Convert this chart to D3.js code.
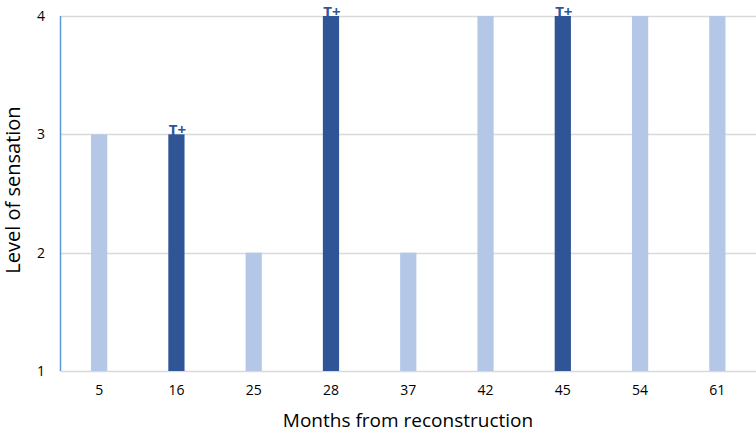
<!DOCTYPE html>
<html>
<head>
<meta charset="utf-8">
<script src="https://cdn.jsdelivr.net/npm/d3@7"></script>
<style>
  body { margin: 0; background: #fff; }
  text { font-family: "Open Sans", "Noto Sans", sans-serif; }
</style>
</head>
<body>
<svg id="chart" width="756" height="435"></svg>
<script>
// data
const months = ["5", "16", "25", "28", "37", "42", "45", "54", "61"];
const levels = [3, 3, 2, 4, 2, 4, 4, 4, 4];
const tPlus = [false, true, false, true, false, false, true, false, false];
const yTicks = [1, 2, 3, 4];

const svg = d3.select("#chart");
const margin = {top: 16, right: 0, bottom: 64, left: 60.5};
const W = 756, H = 435;

const x = d3.scaleBand().domain(months).range([margin.left, W - margin.right]).paddingInner(0.79).paddingOuter(0.395);
const y = d3.scaleLinear().domain([1, 4]).range([H - margin.bottom, margin.top]);

// grid lines
svg.append("g").selectAll("line").data(yTicks).join("line")
  .attr("x1", margin.left).attr("x2", W - margin.right)
  .attr("y1", d => Math.round(y(d)) + 0.5).attr("y2", d => Math.round(y(d)) + 0.5)
  .attr("stroke", "#d9d9d9").attr("stroke-width", 1.5);

// bars
const rows = months.map((m, i) => ({m: m, v: levels[i], t: tPlus[i]}));
svg.append("g").selectAll("rect").data(rows).join("rect")
  .attr("x", d => x(d.m))
  .attr("width", x.bandwidth())
  .attr("y", d => y(d.v))
  .attr("height", d => y(1) - y(d.v))
  .attr("fill", d => d.t ? "#2F5597" : "#B4C7E7");

// T+ labels
svg.append("g").selectAll("text").data(rows.filter(d => d.t)).join("text")
  .attr("x", d => x(d.m) + x.bandwidth() / 2 + 1)
  .attr("y", d => y(d.v) + 1)
  .attr("text-anchor", "middle")
  .attr("font-size", 15).attr("font-weight", "bold")
  .attr("fill", "#2F5597")
  .text("T+");

// y axis line (blue)
svg.append("line")
  .attr("x1", margin.left).attr("x2", margin.left)
  .attr("y1", y(4)).attr("y2", y(1))
  .attr("stroke", "#5B9BD5").attr("stroke-width", 1.5);

// y tick labels
svg.append("g").selectAll("text").data(yTicks).join("text")
  .attr("x", 45).attr("y", d => y(d)).attr("dy", "0.35em")
  .attr("text-anchor", "end").attr("font-size", 14).attr("fill", "#000")
  .text(d => d);

// x tick labels
const xAxis = d3.axisBottom(x).tickSize(0).tickPadding(14);
const gx = svg.append("g").attr("transform", `translate(0,${y(1)})`).call(xAxis);
gx.select(".domain").remove();
gx.selectAll("text").attr("font-size", 14).attr("fill", "#000").style("font-family", "'Open Sans', sans-serif");

// axis titles
svg.append("text")
  .attr("x", 408).attr("y", 427)
  .attr("text-anchor", "middle").attr("font-size", 19).attr("fill", "#000")
  .text("Months from reconstruction");

svg.append("text")
  .attr("transform", `translate(20,190) rotate(-90)`)
  .attr("text-anchor", "middle").attr("font-size", 20).attr("fill", "#000")
  .text("Level of sensation");
</script>
</body>
</html>
